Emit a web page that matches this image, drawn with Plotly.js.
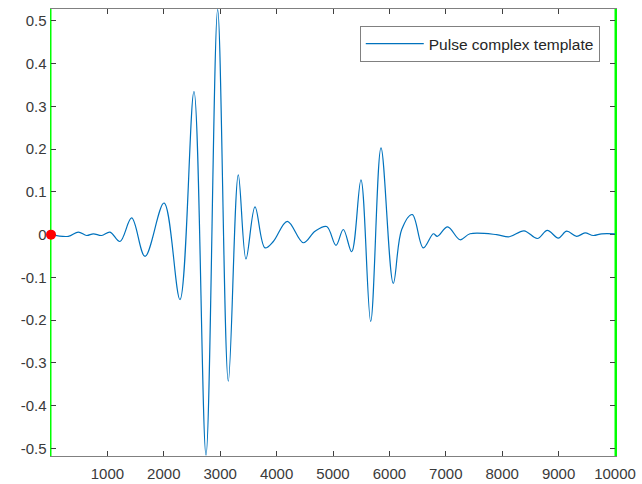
<!DOCTYPE html>
<html>
<head>
<meta charset="utf-8">
<script src="https://cdn.plot.ly/plotly-3.0.1.min.js"></script>
<style>html,body{margin:0;padding:0;background:#fff;}#chart{width:642px;height:484px;}</style>
</head>
<body>
<div id="chart"></div>
<script>
// Sample index of each read-off point of the waveform
const sampleIndex = [0, 307, 485, 632, 751, 898, 1046, 1223, 1430, 1667, 2004, 2287, 2535, 2748, 2955, 3144, 3321, 3457, 3617, 3794, 3942, 4190, 4474, 4681, 4888, 5053, 5183, 5331, 5496, 5668, 5851, 6069, 6218, 6406, 6601, 6779, 6849, 7033, 7252, 7429, 7902, 8126, 8387, 8624, 8800, 8995, 9143, 9320, 9468, 9615, 9764, 10000];
// Amplitude of the pulse complex template at those samples
const amplitude = [0, -0.004, 0.006, -0.002, 0.002, -0.002, 0.006, -0.016, 0.039, -0.051, 0.074, -0.152, 0.335, -0.516, 0.527, -0.343, 0.140, -0.057, 0.065, -0.031, -0.016, 0.031, -0.019, 0.008, 0.019, -0.025, 0.012, -0.040, 0.128, -0.203, 0.203, -0.114, 0.012, 0.047, -0.031, 0.002, -0.004, 0.018, -0.012, 0.002, 0.000, -0.005, 0.009, -0.009, 0.010, -0.008, 0.008, -0.004, 0.004, -0.002, 0.002, 0.002];
const seriesName = "Pulse complex template";
// Red marker point
const markerX = [0];
const markerY = [0];
// Green boundary lines (sample positions)
const boundaryX = [0, 10000];
// Tick labels
const xTickVals = [1000, 2000, 3000, 4000, 5000, 6000, 7000, 8000, 9000, 10000];
const xTickText = ["1000", "2000", "3000", "4000", "5000", "6000", "7000", "8000", "9000", "10000"];
const yTickVals = [-0.5, -0.4, -0.3, -0.2, -0.1, 0, 0.1, 0.2, 0.3, 0.4, 0.5];
const yTickText = ["-0.5", "-0.4", "-0.3", "-0.2", "-0.1", "0", "0.1", "0.2", "0.3", "0.4", "0.5"];
const xRange = [0, 10000];
const yRange = [-0.518, 0.528];

const green = "#00ff00";

const traces = [
  {
    x: sampleIndex, y: amplitude, type: "scatter", mode: "lines", name: seriesName,
    line: {color: "#0072BD", width: 1.2, shape: "spline", smoothing: 1}
  },
  {
    x: markerX, y: markerY, type: "scatter", mode: "markers", showlegend: false,
    marker: {color: "#ff0000", size: 10}, cliponaxis: false
  }
];

// boundary lines placed in paper space so they are not clipped at the plot edges
const shapes = boundaryX.map(bx => {
  const p = (bx - xRange[0]) / (xRange[1] - xRange[0]);
  return {
    type: "line", xref: "paper", yref: "paper", x0: p, x1: p, y0: 0, y1: 1,
    line: {color: green, width: 1}, layer: "below"
  };
});

const axisCommon = {
  showgrid: false, zeroline: false, showline: true, linecolor: "#808080", linewidth: 1,
  mirror: "ticks", ticks: "inside", ticklen: 5, tickcolor: "#404040", tickwidth: 1,
  tickfont: {family: "Liberation Sans, Arial, sans-serif", size: 15, color: "#3a3a3a"},
  tickmode: "array", layer: "below traces"
};

const layout = {
  width: 642, height: 484,
  margin: {l: 51, r: 27, t: 9, b: 28},
  paper_bgcolor: "#ffffff", plot_bgcolor: "#ffffff",
  showlegend: true,
  xaxis: Object.assign({}, axisCommon, {range: xRange, tickvals: xTickVals, ticktext: xTickText, ticklabelstandoff: 4}),
  yaxis: Object.assign({}, axisCommon, {range: yRange, tickvals: yTickVals, ticktext: yTickText, linecolor: green, linewidth: 1.5}),
  legend: {
    x: 0.973, xanchor: "right", y: 0.962, yanchor: "top",
    bgcolor: "#ffffff", bordercolor: "#808080", borderwidth: 1,
    font: {family: "Liberation Sans, Arial, sans-serif", size: 15.5, color: "#262626"},
    itemwidth: 58
  },
  shapes: shapes
};

Plotly.newPlot("chart", traces, layout, {displayModeBar: false, staticPlot: true});
</script>
</body>
</html>
